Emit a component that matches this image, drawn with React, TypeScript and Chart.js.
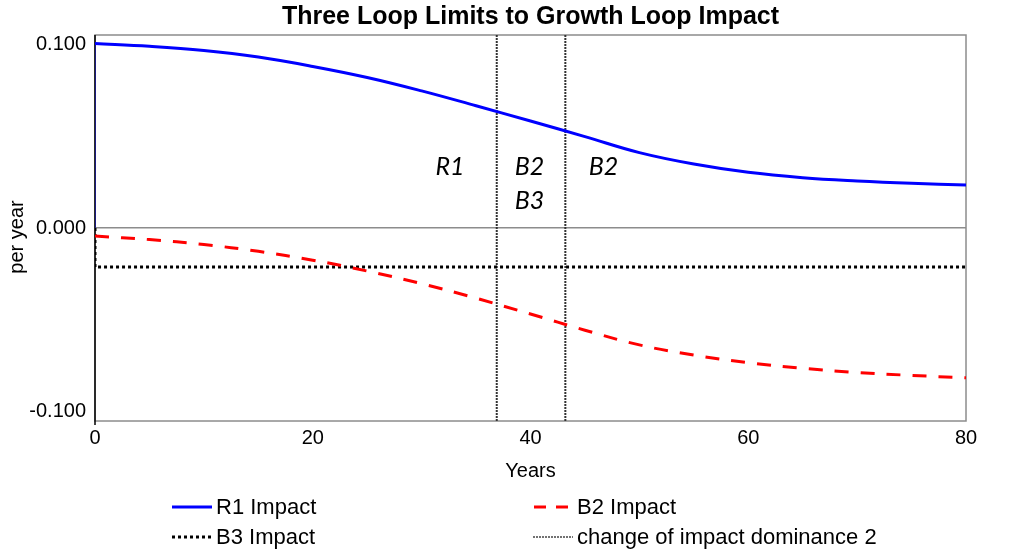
import React, { useEffect, useRef } from "react";
import { Chart, registerables } from "chart.js";

Chart.register(...registerables);

const years = [0, 5, 10, 15, 20, 25, 30, 35, 40, 45, 50, 55, 60, 65, 70, 75, 80];
const r1Impact = [0.1004, 0.0989, 0.0966, 0.093, 0.0879, 0.0819, 0.0746, 0.0665, 0.0582, 0.0497, 0.041, 0.0348, 0.0303, 0.0274, 0.0256, 0.0243, 0.0234];
const b2Impact = [-0.0044, -0.0063, -0.009, -0.0127, -0.0175, -0.0234, -0.0303, -0.0382, -0.0468, -0.0556, -0.0636, -0.0691, -0.0733, -0.0763, -0.0786, -0.0802, -0.0815];
const b3Impact = -0.0212;
const dominanceChangeYears = [36.9, 43.2];
const yTickValues = [-0.1, 0, 0.1];
const xTickValues = [0, 20, 40, 60, 80];
const loopLabels = [
  { text: "R1", x: 32.6, y: 0.033 },
  { text: "B2", x: 39.9, y: 0.033 },
  { text: "B3", x: 39.9, y: 0.0145 },
  { text: "B2", x: 46.7, y: 0.033 },
];
const titleText = "Three Loop Limits to Growth Loop Impact";
const yAxisTitle = "per year";
const xAxisTitle = "Years";
const legendItems = [
  { label: "R1 Impact", kind: "r1" },
  { label: "B2 Impact", kind: "b2" },
  { label: "B3 Impact", kind: "b3" },
  { label: "change of impact dominance 2", kind: "dom" },
];

const FONT = "'Liberation Sans', Arial, Helvetica, sans-serif";
const Y_MIN = -0.105;
const Y_MAX = 0.105;

function LegendSample({ kind }: { kind: string }) {
  let stroke = "#0000ff";
  let dash = "";
  let width = 3;
  if (kind === "b2") {
    stroke = "#ff0000";
    dash = "12 10";
  } else if (kind === "b3") {
    stroke = "#000";
    dash = "3 3";
  } else if (kind === "dom") {
    stroke = "#444";
    dash = "2 1";
    width = 1.5;
  }
  return (
    <svg width={40} height={10} style={{ display: "block" }}>
      <line x1={kind === "b2" ? 1 : 0} y1={5} x2={40} y2={5} stroke={stroke} strokeWidth={width} strokeDasharray={dash} />
    </svg>
  );
}

export default function App() {
  const canvasRef = useRef<HTMLCanvasElement | null>(null);

  useEffect(() => {
    const canvas = canvasRef.current;
    if (!canvas) return;

    const framePlugin = {
      id: "frame",
      beforeDatasetsDraw(chart: any) {
        const { ctx, chartArea } = chart;
        const { left, right, top, bottom } = chartArea;
        ctx.save();
        ctx.strokeStyle = "#8c8c8c";
        ctx.lineWidth = 1.5;
        ctx.strokeRect(left, top, right - left, bottom - top);
        ctx.strokeStyle = "#000";
        ctx.lineWidth = 1.5;
        ctx.beginPath();
        ctx.moveTo(left, top);
        ctx.lineTo(left, bottom + 4);
        ctx.stroke();
        ctx.restore();
      },
      afterDraw(chart: any) {
        const { ctx, chartArea, scales } = chart;
        ctx.save();
        ctx.fillStyle = "#000";
        ctx.font = `bold 25px ${FONT}`;
        ctx.textAlign = "center";
        ctx.textBaseline = "middle";
        ctx.fillText(titleText, (chartArea.left + chartArea.right) / 2, 17);
        ctx.save();
        ctx.font = `20px ${FONT}`;
        ctx.translate(17, (chartArea.top + chartArea.bottom) / 2 + 9);
        ctx.rotate(-Math.PI / 2);
        ctx.fillText(yAxisTitle, 0, 0);
        ctx.restore();
        ctx.font = `italic 25px Lato, 'Open Sans', sans-serif`;
        for (const l of loopLabels) {
          ctx.fillText(l.text, scales.x.getPixelForValue(l.x), scales.y.getPixelForValue(l.y));
        }
        ctx.restore();
      },
    };

    const chart = new Chart(canvas, {
      type: "line",
      data: {
        datasets: [
          {
            label: "R1 Impact",
            data: years.map((x, i) => ({ x, y: r1Impact[i] })),
            borderColor: "#0000ff",
            borderWidth: 3,
            pointRadius: 0,
            tension: 0.4,
          },
          {
            label: "R1 start",
            data: [
              { x: years[0], y: 0 },
              { x: years[0], y: r1Impact[0] },
            ],
            borderColor: "#1a1a80",
            borderWidth: 2,
            pointRadius: 0,
            tension: 0,
          },
          {
            label: "B2 Impact",
            data: years.map((x, i) => ({ x, y: b2Impact[i] })),
            borderColor: "#ff0000",
            borderWidth: 3,
            borderDash: [14, 12],
            pointRadius: 0,
            tension: 0.4,
          },
          {
            label: "B3 Impact",
            data: [
              { x: years[0], y: 0 },
              { x: years[0], y: b3Impact },
              { x: years[years.length - 1], y: b3Impact },
            ],
            borderColor: "#000",
            borderWidth: 3,
            borderDash: [3, 3],
            pointRadius: 0,
            tension: 0,
          },
          ...dominanceChangeYears.map((yr, i) => ({
            label: i === 0 ? "change of impact dominance 2" : "dominance line",
            data: [
              { x: yr, y: Y_MIN },
              { x: yr, y: Y_MAX },
            ],
            borderColor: "#333",
            borderWidth: 2,
            borderDash: [2, 1],
            pointRadius: 0,
            tension: 0,
          })),
        ],
      },
      options: {
        animation: false,
        responsive: false,
        maintainAspectRatio: false,
        layout: { padding: { top: 35, right: 58, bottom: 69, left: 0 } },
        plugins: {
          legend: { display: false },
          tooltip: { enabled: false },
          title: { display: false },
        },
        scales: {
          x: {
            type: "linear",
            min: 0,
            max: 80,
            afterFit(scale: any) {
              scale.height = 64;
            },
            afterBuildTicks(scale: any) {
              scale.ticks = xTickValues.map((v) => ({ value: v }));
            },
            grid: { display: false, drawTicks: false },
            border: { display: false },
            ticks: {
              color: "#000",
              padding: 5,
              maxRotation: 0,
              font: { family: FONT, size: 20 },
            },
            title: {
              display: true,
              text: xAxisTitle,
              color: "#000",
              font: { family: FONT, size: 20 },
              padding: { top: 0, bottom: 2 },
            },
          },
          y: {
            type: "linear",
            min: Y_MIN,
            max: Y_MAX,
            afterFit(scale: any) {
              scale.width = 95;
            },
            afterBuildTicks(scale: any) {
              scale.ticks = yTickValues.map((v) => ({ value: v }));
            },
            grid: {
              drawTicks: false,
              color: (c: any) => (c.tick && Math.abs(c.tick.value) < 1e-9 ? "#8c8c8c" : "rgba(0,0,0,0)"),
              lineWidth: 1.5,
            },
            border: { display: false },
            ticks: {
              color: "#000",
              padding: 9,
              font: { family: FONT, size: 20 },
              callback: (v: any) => Number(v).toFixed(3),
            },
            title: { display: false },
          },
        },
      },
      plugins: [framePlugin],
    } as any);

    return () => chart.destroy();
  }, []);

  const cols = [172, 533];
  const rows = [507, 537];

  return (
    <div style={{ position: "fixed", left: 0, top: 0, width: 1024, height: 554, background: "#fff", overflow: "hidden" }}>
      <canvas ref={canvasRef} width={1024} height={554} style={{ position: "absolute", left: 0, top: 0 }} />
      {legendItems.map((item, i) => (
        <div
          key={item.label}
          style={{
            position: "absolute",
            left: cols[i % 2],
            top: rows[Math.floor(i / 2)] - 14,
            height: 28,
            display: "flex",
            alignItems: "center",
            fontFamily: FONT,
            fontSize: 22,
            color: "#000",
            whiteSpace: "nowrap",
          }}
        >
          <LegendSample kind={item.kind} />
          <span style={{ marginLeft: 4 }}>{item.label}</span>
        </div>
      ))}
    </div>
  );
}
